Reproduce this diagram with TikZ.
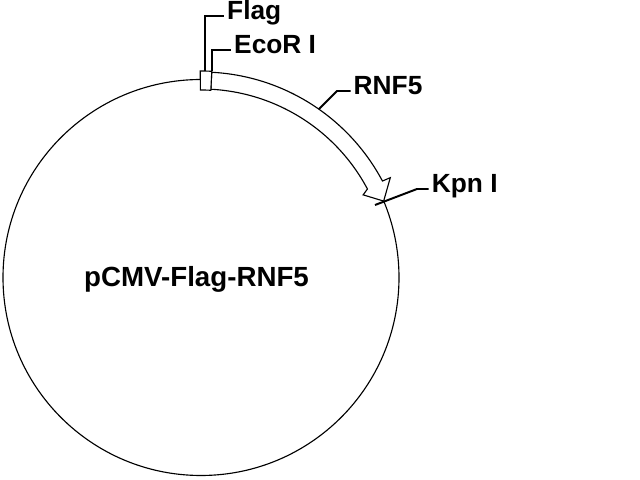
\documentclass[tikz,border=0pt]{standalone}
\usepackage{fontspec}
\setmainfont{Liberation Sans}
\usepackage{tikz}
\usetikzlibrary{positioning, calc}

\tikzset{
  lbl/.style={font=\bfseries\fontsize{18.7}{18.7}\selectfont, anchor=mid west, inner ysep=0pt, inner xsep=2.1pt},
  leader/.style={line width=1.4pt},
  plasmid/.style={line width=0.8pt}
}

\begin{document}
\begin{tikzpicture}[x=0.025cm, y=0.025cm]
\useasboundingbox (0,0) rectangle (640,480);

% Plasmid backbone
\begin{scope}[shift={(201,202.5)}]
\draw[plasmid] (0,0) circle[radius=198];

% RNF5 insert (block arrow)
\draw[plasmid, fill=white] (87:188.5) arc[start angle=87, end angle=28, radius=188.5]
  -- (27:182) -- (22.7:198) -- (27.8:214) -- (28:205.5)
  arc[start angle=28, end angle=87, radius=205.5] -- cycle;

% Flag tag
\draw[plasmid, fill=white] (90.2:187.5) arc[start angle=90.2, end angle=87, radius=187.5]
  -- (87:206.5) arc[start angle=87, end angle=90.2, radius=206.5] -- cycle;

% Sites
\coordinate (flagsite) at (88.8:206.5);
\coordinate (ecorsite) at (87:206.5);
\coordinate (rnfsite) at (55:205.5);
\end{scope}
\coordinate (kpnsite) at (375,275);
\coordinate (rnfbend) at (337,389);
\coordinate (kpnbend) at (417,291);

% Labels
\node[lbl] (flag) at (224,464.3) {Flag};
\node[lbl] (ecor) at (231,430) {EcoR I};
\node[lbl] (rnf5) at (350.5,389) {RNF5};
\node[lbl] (kpn) at (428.7,291) {Kpn I};
\node[font=\bfseries\fontsize{19.7}{19.7}\selectfont, anchor=base] (name) at (196.5,193) {pCMV-Flag-RNF5};

% Leaders
\draw[leader] (flagsite) |- (flag.mid west);
\draw[leader] (ecorsite) |- (ecor.mid west);
\draw[leader] (rnfsite) -- (rnfbend) -- (rnf5.mid west);
\draw[leader] (kpnsite) -- (kpnbend) -- (kpn.mid west);
\end{tikzpicture}
\end{document}
